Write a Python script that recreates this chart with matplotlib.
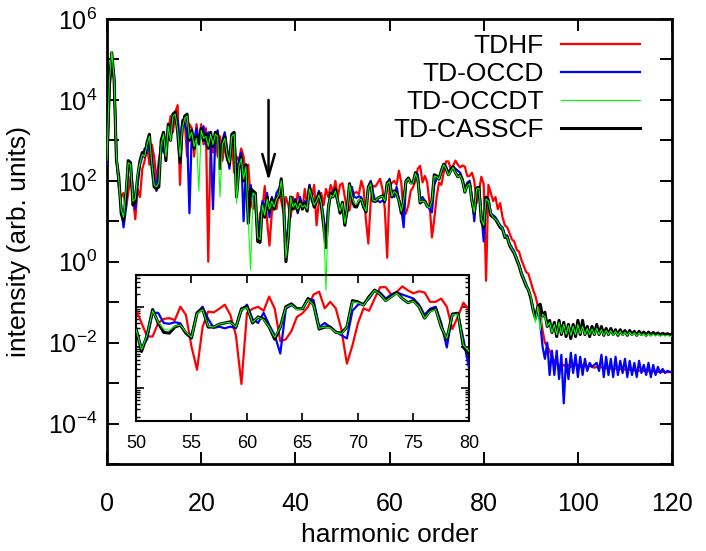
import numpy as np
import matplotlib
matplotlib.use("Agg")
import matplotlib.pyplot as plt
from matplotlib.ticker import FixedLocator, LogLocator, NullFormatter, NullLocator

plt.rcParams["font.family"] = ["Liberation Sans", "DejaVu Sans"]
plt.rcParams["mathtext.fontset"] = "custom"
plt.rcParams["mathtext.rm"] = "Liberation Sans"
plt.rcParams["mathtext.default"] = "regular"

# harmonic order grid (0 .. 120, step 0.5)
harmonic = np.arange(241) * 0.5

# log10 of the spectral intensity
tdhf_log10 = [
    2.3, 4.2, 4.95, 4.5, 2.6, 1.8, 1.6, 1.7, 1.3, 1.7,
    2.1, 1.6, 1.05, 1.8, 1.6, 2.3, 2.5, 2.9, 2.4, 2.9,
    2.6, 2.0, 2.5, 2.9, 3.1, 2.7, 3.2, 3.6, 3.2, 3.7,
    3.87, 1.9, 3.4, 3.5, 2.6, 3.4, 3.3, 2.6, 3.4, 2.9,
    3.4, 2.9, 3.3, 0.0, 3.0, 2.7, 3.2, 2.6, 3.1, 2.5,
    2.9, 2.5, 2.7, 3.0, 2.2, 2.6, 2.5, 2.8, 2.6, 2.1,
    2.4, 1.5, 1.3, 1.6, 0.6, 1.2, 1.3, 1.87, 1.0, 0.4,
    1.2, 1.5, 1.3, 1.7, 1.5, 1.2, 1.6, 1.4, 1.1, 1.6,
    1.3, 1.7, 1.5, 1.3, 1.8, 1.4, 1.9, 1.6, 1.9, 0.9,
    1.5, 1.7, 1.4, 1.8, 1.6, 1.9, 1.7, 2.0, 1.6, 1.9,
    1.94, 1.6, 1.27, 1.27, 1.6, 1.7, 1.72, 1.67, 2.0, 1.8,
    1.02, 0.45, 1.5, 1.88, 1.86, 1.95, 2.05, 1.8, 1.3, 0.1,
    1.85, 1.95, 2.0, 1.9, 2.25, 1.95, 1.15, 1.2, 1.4, 1.75,
    1.84, 2.0, 2.3, 2.37, 1.96, 2.12, 1.96, 1.45, 0.6, 1.05,
    1.6, 1.96, 1.9, 2.2, 2.48, 2.48, 2.3, 2.37, 2.5, 2.4,
    2.33, 2.38, 2.35, 2.12, 2.12, 2.2, 2.0, 1.45, 1.76, 2.1,
    1.92, -0.47, 1.9, 1.7, 1.5, 1.6, 1.3, 1.45, 1.1, 0.9,
    0.85, 0.7, 0.55, 0.5, 0.3, 0.25, 0.05, -0.1, -0.25, -0.3,
    -0.5, -0.7, -0.85, -1.1, -1.3, -1.7, -2.0, -2.1, -2.2, -2.35,
    -2.45, -2.5, -2.55, -2.6, -2.55, -2.6, -2.55, -2.6, -2.58, -2.55,
    -2.55, -2.6, -2.55, -2.58, -2.6, -2.57, -2.6, -2.62, -2.6, -2.62,
    -2.6, -2.64, -2.62, -2.65, -2.63, -2.66, -2.64, -2.67, -2.65, -2.68,
    -2.66, -2.68, -2.67, -2.69, -2.68, -2.7, -2.69, -2.7, -2.7, -2.71,
    -2.7, -2.72, -2.71, -2.72, -2.72, -2.73, -2.72, -2.73, -2.73, -2.73,
    -2.73,
]

occd_log10 = [
    2.4, 4.3, 5.05, 4.6, 2.6, 1.9, 1.4, 0.85, 1.3, 2.3,
    2.4, 1.8, 1.3, 1.9, 2.4, 2.6, 2.8, 2.7, 3.0, 2.6,
    2.1, 1.75, 2.3, 2.9, 2.7, 3.0, 3.3, 3.1, 3.5, 3.6,
    3.5, 2.9, 3.5, 3.4, 3.2, 1.2, 3.2, 3.0, 3.3, 2.9,
    3.1, 3.35, 2.9, 3.2, 3.0, 1.3, 3.1, 3.25, 2.6, 3.0,
    3.2, 2.8, 2.3, 3.0, 3.1, 2.2, 2.5, 2.7, 1.0, 2.3,
    1.3, 1.9, 1.6, 1.4, 0.7, 1.0, 1.5, 1.3, 1.7, 1.1,
    1.6, 1.4, 1.7, 1.8, 1.95, 1.5, 0.3, 0.9, 1.6, 1.45,
    1.55, 1.2, 1.6, 1.35, 1.5, 1.4, 1.9, 1.5, 1.4, 1.55,
    1.75, 1.5, 1.1, 0.6, 1.4, 1.6, 1.75, 1.7, 1.45, 1.3,
    1.43, 1.0, 1.2, 1.85, 1.85, 1.6, 1.58, 1.62, 1.59, 1.35,
    1.3, 1.85, 2.0, 1.7, 1.48, 1.51, 1.47, 1.51, 1.47, 1.9,
    2.05, 1.7, 1.6, 1.85, 1.55, 1.3, 0.85, 1.95, 2.04, 1.95,
    1.95, 2.2, 2.16, 1.5, 1.6, 1.5, 1.39, 1.3, 1.22, 1.9,
    2.05, 2.08, 2.2, 2.4, 2.35, 2.2, 2.3, 2.35, 2.3, 2.25,
    2.2, 2.05, 1.8, 1.95, 2.0, 1.6, 1.0, 1.8, 1.84, 1.2,
    0.5, 1.5, 1.55, 1.2, 1.15, 1.1, 1.0, 0.9, 0.85, 0.65,
    0.65, 0.45, 0.35, 0.25, 0.1, -0.05, -0.25, -0.4, -0.55, -0.7,
    -0.9, -1.15, -1.3, -1.2, -1.5, -2.1, -2.4, -2.0, -2.8, -2.2,
    -2.8, -2.2, -2.9, -2.3, -3.5, -2.4, -2.9, -2.25, -2.75, -2.3,
    -2.85, -2.35, -2.8, -2.4, -2.7, -2.5, -2.6, -2.55, -2.5, -2.7,
    -2.3, -2.85, -2.35, -2.8, -2.4, -2.85, -2.35, -2.8, -2.45, -2.75,
    -2.4, -2.85, -2.45, -2.8, -2.5, -2.85, -2.45, -2.75, -2.55, -2.8,
    -2.5, -2.85, -2.55, -2.8, -2.6, -2.75, -2.65, -2.75, -2.7, -2.72,
    -2.72,
]

occdt_log10 = [
    2.5, 4.45, 5.2, 4.55, 2.6, 2.0, 1.3, 1.1, 1.7, 2.45,
    2.4, 1.5, 1.55, 2.15, 2.45, 2.65, 2.6, 2.9, 3.1, 2.45,
    1.9, 1.85, 1.95, 2.9, 3.15, 2.6, 3.35, 3.0, 3.6, 3.65,
    3.25, 2.6, 3.3, 3.55, 3.6, 3.05, 3.2, 2.85, 3.05, 1.75,
    3.25, 3.05, 3.1, 2.85, 3.15, 2.9, 3.15, 3.1, 1.6, 2.9,
    3.05, 2.65, 2.45, 3.1, 3.15, 1.45, 2.35, 2.55, 2.05, 2.35,
    1.0, -0.2, 1.7, 1.65, 0.6, 0.55, 1.4, 1.15, 1.55, 1.3,
    1.5, 1.35, 1.55, 1.65, 2.0, 1.45, 0.1, 0.65, 1.6, 1.35,
    1.45, 1.3, 1.45, 1.35, 1.4, 1.3, 1.8, 1.6, 1.4, 1.5,
    1.65, 1.45, 0.95, -0.7, 1.35, 1.65, 1.6, 1.75, 1.5, 1.25,
    1.45, 0.95, 1.3, 1.9, 1.62, 1.45, 1.42, 1.52, 1.55, 1.38,
    1.25, 1.83, 1.93, 1.52, 1.5, 1.57, 1.6, 1.62, 1.5, 1.93,
    1.98, 1.62, 1.74, 1.68, 1.5, 1.25, 1.5, 1.98, 2.05, 1.93,
    1.95, 2.18, 2.04, 1.47, 1.5, 1.48, 1.37, 1.33, 1.5, 2.12,
    2.1, 2.04, 2.23, 2.4, 2.3, 2.14, 2.24, 2.33, 2.2, 2.1,
    2.13, 2.0, 1.72, 1.88, 1.93, 1.5, 1.22, 1.8, 1.82, 1.05,
    0.9, 1.55, 1.5, 1.2, 1.1, 1.05, 0.98, 0.88, 0.82, 0.62,
    0.6, 0.42, 0.32, 0.22, 0.07, -0.08, -0.28, -0.43, -0.58, -0.7,
    -0.85, -1.2, -1.5, -1.1, -1.7, -1.3, -1.35, -1.6, -1.5, -1.75,
    -1.55, -1.8, -1.5, -1.78, -1.55, -1.8, -1.58, -1.82, -1.6, -1.8,
    -1.55, -1.78, -1.6, -1.8, -1.65, -1.8, -1.66, -1.8, -1.64, -1.8,
    -1.68, -1.82, -1.7, -1.8, -1.7, -1.82, -1.72, -1.82, -1.72, -1.82,
    -1.74, -1.82, -1.74, -1.82, -1.76, -1.83, -1.76, -1.82, -1.78, -1.84,
    -1.78, -1.83, -1.79, -1.84, -1.8, -1.84, -1.81, -1.84, -1.82, -1.84,
    -1.84,
]

casscf_log10 = [
    2.5, 4.4, 5.17, 4.5, 2.5, 2.1, 1.2, 1.0, 1.6, 2.5,
    2.45, 1.4, 1.5, 2.1, 2.5, 2.7, 2.6, 2.95, 3.15, 2.4,
    1.85, 1.8, 1.85, 3.0, 3.2, 2.5, 3.4, 3.0, 3.65, 3.7,
    3.2, 2.45, 3.35, 3.6, 3.65, 3.0, 3.25, 2.8, 3.1, 2.95,
    3.3, 3.0, 3.15, 2.8, 3.2, 2.85, 3.2, 3.15, 2.3, 2.9,
    3.1, 2.6, 2.4, 3.15, 3.2, 1.6, 2.3, 2.6, 2.0, 2.4,
    0.95, 1.8, 1.75, 1.7, 0.5, 0.48, 1.4, 1.1, 1.6, 1.25,
    1.55, 1.3, 1.6, 1.6, 2.05, 1.4, 0.0, 0.6, 1.6, 1.3,
    1.5, 1.25, 1.5, 1.3, 1.45, 1.25, 1.85, 1.6, 1.35, 1.5,
    1.7, 1.4, 0.9, 0.35, 1.3, 1.7, 1.6, 1.8, 1.5, 1.2,
    1.47, 0.9, 1.3, 1.93, 1.6, 1.37, 1.35, 1.5, 1.55, 1.35,
    1.23, 1.85, 1.95, 1.5, 1.5, 1.57, 1.6, 1.63, 1.5, 1.95,
    2.0, 1.6, 1.75, 1.7, 1.5, 1.2, 1.5, 2.0, 2.07, 1.95,
    1.95, 2.2, 2.05, 1.45, 1.5, 1.5, 1.37, 1.35, 1.5, 2.15,
    2.12, 2.04, 2.25, 2.41, 2.3, 2.15, 2.25, 2.35, 2.2, 2.1,
    2.15, 2.0, 1.72, 1.9, 1.95, 1.5, 1.2, 1.82, 1.84, 1.0,
    0.85, 1.6, 1.5, 1.15, 1.1, 1.05, 0.95, 0.85, 0.8, 0.6,
    0.6, 0.4, 0.3, 0.2, 0.05, -0.1, -0.3, -0.45, -0.6, -0.7,
    -0.9, -1.2, -1.4, -1.1, -1.05, -1.35, -1.25, -1.6, -1.45, -1.75,
    -1.5, -1.85, -1.45, -1.8, -1.5, -1.85, -1.55, -1.9, -1.55, -1.85,
    -1.45, -1.8, -1.45, -1.8, -1.6, -1.85, -1.6, -1.8, -1.55, -1.8,
    -1.6, -1.82, -1.65, -1.8, -1.65, -1.8, -1.68, -1.82, -1.68, -1.8,
    -1.7, -1.82, -1.7, -1.8, -1.72, -1.82, -1.72, -1.8, -1.74, -1.82,
    -1.74, -1.81, -1.75, -1.8, -1.76, -1.81, -1.77, -1.8, -1.78, -1.8,
    -1.8,
]

labels = ["TDHF", "TD-OCCD", "TD-OCCDT", "TD-CASSCF"]
series = [tdhf_log10, occd_log10, occdt_log10, casscf_log10]
colors = ["#ff0000", "#0000ff", "#00ff00", "#000000"]
widths = [1.6, 1.6, 0.8, 2.2]
zorders = [2, 3, 5, 4]

x_ticks = [0, 20, 40, 60, 80, 100, 120]
inset_ticks = [50, 55, 60, 65, 70, 75, 80]


def style_main(ax):
    ax.set_yscale("log")
    ax.set_xlim(0, 120)
    ax.set_ylim(1e-5, 1e6)
    ax.xaxis.set_major_locator(FixedLocator(x_ticks))
    ax.yaxis.set_major_locator(FixedLocator([10.0 ** k for k in range(-5, 7)]))
    ax.yaxis.set_minor_locator(NullLocator())
    ax.set_yticklabels(["" if k % 2 else r"$10^{%d}$" % k for k in range(-5, 7)])
    ax.tick_params(which="both", direction="in", top=True, right=True,
                   length=8.5, width=1.4, labelsize=18)
    ax.tick_params(axis="x", pad=20)
    ax.tick_params(axis="y", pad=7)
    for sp in ax.spines.values():
        sp.set_linewidth(2.0)


def style_inset(ax):
    ax.set_yscale("log")
    ax.set_xlim(50, 80)
    ax.set_ylim(10 ** -0.81, 10 ** 2.78)
    ax.xaxis.set_major_locator(FixedLocator(inset_ticks))
    ax.yaxis.set_major_locator(LogLocator(base=10))
    ax.yaxis.set_minor_locator(LogLocator(base=10, subs=np.arange(2, 10)))
    ax.yaxis.set_major_formatter(NullFormatter())
    ax.yaxis.set_minor_formatter(NullFormatter())
    ax.tick_params(which="both", direction="in", top=True, right=True,
                   labelsize=13, pad=10)
    ax.tick_params(which="major", length=5.5, width=1.2)
    ax.tick_params(which="minor", length=3, width=1.0)
    ax.patch.set_alpha(0)
    for sp in ax.spines.values():
        sp.set_linewidth(1.5)


fig = plt.figure(figsize=(7.06, 5.51), dpi=100)
ax = fig.add_axes([0.1516, 0.1579, 0.8003, 0.8076])

for lab, vals, col, lw, z in zip(labels, series, colors, widths, zorders):
    ax.plot(harmonic, 10.0 ** np.array(vals), color=col, lw=lw, label=lab,
            zorder=z)
style_main(ax)

ax.set_xlabel("harmonic order", fontsize=19, labelpad=5)
ax.set_ylabel("intensity (arb. units)", fontsize=19, labelpad=12)

leg = ax.legend(loc="upper right", bbox_to_anchor=(1 - 32 / 565, 1 - 15 / 445),
                frameon=False, markerfirst=False, fontsize=19,
                handlelength=3.0, handletextpad=0.65, labelspacing=0.15,
                borderaxespad=0, borderpad=0)
for t in leg.get_texts():
    t.set_ha("right")

# arrow marking the harmonic discussed in the text
ax.annotate("", xy=(34.3, 10 ** 2.0), xytext=(34.3, 10 ** 4.0),
            arrowprops=dict(arrowstyle="->,head_length=1.6,head_width=0.45",
                            lw=1.8, color="black", shrinkA=0, shrinkB=0,
                            mutation_scale=10), zorder=6)

axin = fig.add_axes([0.1926, 0.2359, 0.4717, 0.2650])
for vals, col, lw, z in zip(series, colors, widths, zorders):
    axin.plot(harmonic, 10.0 ** np.array(vals), color=col, lw=lw, zorder=z)
style_inset(axin)

fig.savefig("out.png", dpi=100)
